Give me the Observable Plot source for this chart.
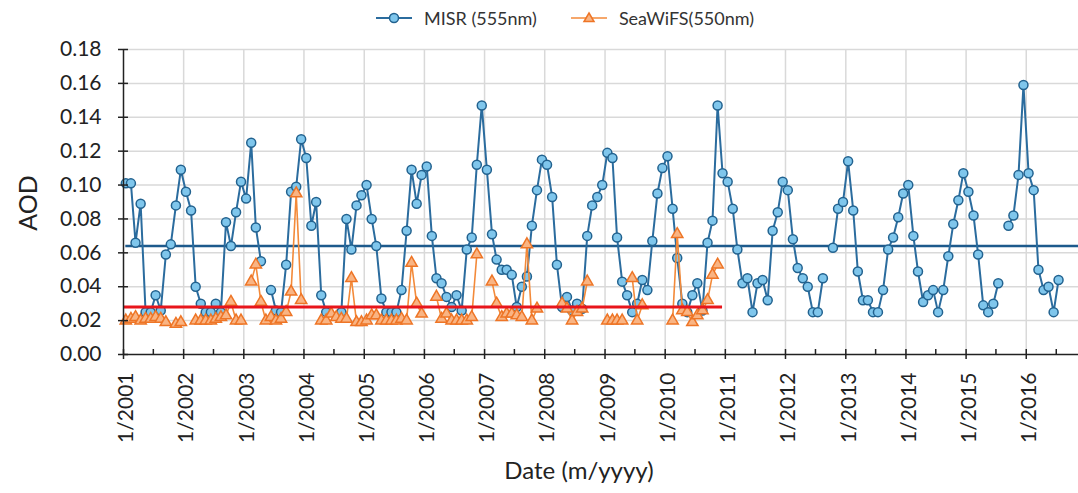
<!DOCTYPE html>
<html><head><meta charset="utf-8">
<script src="https://cdn.jsdelivr.net/npm/d3@7"></script>
<script src="https://cdn.jsdelivr.net/npm/@observablehq/plot@0.6"></script>
<style>
body{margin:0;background:#fff;font-family:Lato,"Open Sans",sans-serif;}
#wrap{position:relative;width:1078px;height:493px;overflow:hidden;}
#legend{position:absolute;top:7px;left:376px;display:flex;align-items:center;font-size:18px;color:#333;white-space:nowrap;}
#legend .item{display:flex;align-items:center;margin-right:34px;}
#legend .item span{margin-left:12px;}
#chart{position:absolute;top:36px;left:0;}
.title{position:absolute;color:#222;white-space:nowrap;transform:translate(-50%,-50%);line-height:1;}
#ytitle{left:27px;top:203px;font-size:25px;transform:translate(-50%,-50%) rotate(-90deg);}
#xtitle{left:579px;top:470px;font-size:24px;}
</style></head><body>
<div id="wrap"><div id="legend"></div><div id="chart"></div>
<div id="ytitle" class="title"></div><div id="xtitle" class="title"></div></div>
<script>
// ---- data (monthly AOD, Jan..Dec; null = no data) ----
const seriesNames = ["MISR (555nm)", "SeaWiFS(550nm)"];
const yTitle = "AOD";
const xTitle = "Date (m/yyyy)";
const misrStartYear = 2001;
const misrAOD = [
  [0.101,0.101,0.066,0.089,0.025,0.025,0.035,0.026,0.059,0.065,0.088,0.109], // 2001
  [0.096,0.085,0.040,0.030,0.025,0.025,0.030,0.025,0.078,0.064,0.084,0.102], // 2002
  [0.092,0.125,0.075,0.055,null,0.038,0.026,0.025,0.053,0.096,0.099,0.127],  // 2003
  [0.116,0.076,0.090,0.035,0.025,null,null,0.025,0.080,0.062,0.088,0.094],   // 2004
  [0.100,0.080,0.064,0.033,0.025,0.025,0.025,0.038,0.073,0.109,0.089,0.106], // 2005
  [0.111,0.070,0.045,0.042,0.034,0.028,0.035,0.026,0.062,0.069,0.112,0.147], // 2006
  [0.109,0.071,0.056,0.050,0.050,0.047,0.028,0.040,0.046,0.076,0.097,0.115], // 2007
  [0.112,0.093,0.053,0.028,0.034,0.026,0.030,0.027,0.070,0.088,0.093,0.100], // 2008
  [0.119,0.116,0.069,0.043,0.035,0.025,0.030,0.044,0.038,0.067,0.095,0.110], // 2009
  [0.117,0.086,0.057,0.030,0.025,0.035,0.042,0.026,0.066,0.079,0.147,0.107], // 2010
  [0.102,0.086,0.062,0.042,0.045,0.025,0.042,0.044,0.032,0.073,0.084,0.102], // 2011
  [0.097,0.068,0.051,0.045,0.040,0.025,0.025,0.045,null,0.063,0.086,0.090],  // 2012
  [0.114,0.085,0.049,0.032,0.032,0.025,0.025,0.038,0.062,0.069,0.081,0.095], // 2013
  [0.100,0.070,0.049,0.031,0.035,0.038,0.025,0.038,0.058,0.077,0.091,0.107], // 2014
  [0.096,0.082,0.059,0.029,0.025,0.030,0.042,null,0.076,0.082,0.106,0.159],  // 2015
  [0.107,0.097,0.050,0.038,0.040,0.025,0.044]                                 // 2016
];
const seawifsStartYear = 2001;
const seawifsAOD = [
  [0.020,0.021,0.022,0.020,0.021,0.021,0.022,0.021,0.019,null,0.018,0.019], // 2001
  [null,null,0.020,0.020,0.020,0.020,0.021,0.022,0.023,0.031,0.020,0.020],  // 2002
  [null,0.043,0.053,0.031,0.020,0.022,0.020,0.021,0.025,0.037,0.095,0.032], // 2003
  [null,null,null,0.020,0.020,0.024,0.022,0.021,0.021,0.045,0.019,0.019],   // 2004
  [0.020,0.023,0.023,0.020,0.020,0.020,0.020,0.021,0.020,0.054,0.030,0.024],// 2005
  [null,null,0.034,0.021,0.024,0.020,0.020,0.020,0.020,0.022,0.059,null],   // 2006
  [null,0.043,0.030,0.022,0.024,0.024,0.023,0.022,0.065,0.020,0.027,null],  // 2007
  [null,null,null,0.030,0.027,0.020,0.025,0.027,0.043,null,null,null],      // 2008
  [0.020,0.020,0.020,0.020,null,0.045,0.020,0.029,null,null,null,null],     // 2009
  [null,0.020,0.071,0.026,0.025,0.019,0.023,0.026,0.032,0.047,0.053,null]   // 2010
];
const misrMean = 0.064;
const seawifsMean = 0.028;
const yTicks = [0,0.02,0.04,0.06,0.08,0.10,0.12,0.14,0.16,0.18];
const tickYears = [2001,2002,2003,2004,2005,2006,2007,2008,2009,2010,2011,2012,2013,2014,2015,2016];

// ---- build tables ----
function toRows(arr, y0) {
  const rows = [];
  arr.forEach((yr, i) => yr.forEach((v, m) => rows.push({date: new Date(y0 + i, m, 15), v})));
  return rows;
}
const misr = toRows(misrAOD, misrStartYear);
const seawifs = toRows(seawifsAOD, seawifsStartYear);
const yearDates = tickYears.map(y => new Date(y, 0, 1));
const midDates = tickYears.map(y => new Date(y, 6, 1));
const xStart = new Date(2001, 0, 1), xEnd = new Date(2016, 10, 13);

const C = {misrLine:"#2b6c9e", misrFill:"#7fc6ec", misrStroke:"#22628f", misrMean:"#1d5a8c",
           seaLine:"#f38a3a", seaFill:"#f9b483", seaStroke:"#ee7526", seaMean:"#e8151b",
           grid:"#d9d9d9", axis:"#222"};

// ---- legend & titles ----
document.getElementById("legend").innerHTML =
 `<div class="item"><svg width="36" height="16"><line x1="0" y1="8" x2="36" y2="8" stroke="${C.misrLine}" stroke-width="2"/><circle cx="18" cy="8" r="4.5" fill="${C.misrFill}" stroke="${C.misrStroke}" stroke-width="1.5"/></svg><span>${seriesNames[0]}</span></div>` +
 `<div class="item"><svg width="36" height="16"><line x1="0" y1="8" x2="36" y2="8" stroke="${C.seaLine}" stroke-width="1.6"/><path d="M18,3 L23,11.5 L13,11.5 Z" fill="${C.seaFill}" stroke="${C.seaStroke}" stroke-width="1.5"/></svg><span>${seriesNames[1]}</span></div>`;
document.getElementById("ytitle").textContent = yTitle;
document.getElementById("xtitle").textContent = xTitle;

// ---- chart ----
const chart = Plot.plot({
  width: 1078, height: 457,
  marginLeft: 123, marginRight: 0, marginTop: 13, marginBottom: 139,
  style: {fontFamily: "Lato, 'Open Sans', sans-serif", color: "#222", background: "#fff", overflow: "visible"},
  x: {type: "time", domain: [xStart, xEnd], axis: null},
  y: {domain: [0, 0.18], axis: null},
  marks: [
    Plot.gridY(yTicks.slice(1), {stroke: C.grid, strokeOpacity: 1, strokeWidth: 1.5}),
    Plot.gridX(yearDates.slice(1), {stroke: C.grid, strokeOpacity: 1, strokeWidth: 1.5}),
    Plot.ruleY([misrMean], {x1: misr[0].date, x2: xEnd, stroke: C.misrMean, strokeWidth: 2.5}),
    Plot.line(misr, {x: "date", y: "v", stroke: C.misrLine, strokeWidth: 2}),
    Plot.dot(misr, {x: "date", y: "v", r: 4.5, fill: C.misrFill, stroke: C.misrStroke, strokeWidth: 1.5}),
    Plot.line(seawifs, {x: "date", y: "v", stroke: C.seaLine, strokeWidth: 1.6}),
    Plot.dot(seawifs, {x: "date", y: "v", symbol: "triangle", r: 4.2, fill: C.seaFill, stroke: C.seaStroke, strokeWidth: 1.5}),
    Plot.ruleY([seawifsMean], {x1: xStart, x2: new Date(2010, 11, 15), stroke: C.seaMean, strokeWidth: 3}),
    // axis lines
    Plot.ruleX([xStart], {stroke: C.axis, strokeWidth: 1.5}),
    Plot.ruleY([0], {stroke: C.axis, strokeWidth: 1.5}),
    // y axis: crossing ticks, then labels
    Plot.axisY(yTicks, {tickSize: 10, dx: 5, tickFormat: () => "", stroke: C.axis, strokeWidth: 1.5, label: null}),
    Plot.axisY(yTicks, {tickSize: 0, tickPadding: 22, tickFormat: d3.format(".2f"), fontSize: 21, fill: "#222", label: null}),
    // x axis: crossing year ticks, inner mid-year ticks, rotated labels
    Plot.axisX(yearDates, {tickSize: 10, dy: -5, tickFormat: () => "", stroke: C.axis, strokeWidth: 1.5, label: null}),
    Plot.axisX(midDates, {tickSize: -5, tickFormat: () => "", stroke: C.axis, strokeWidth: 1.5, label: null}),
    Plot.axisX(yearDates, {tickSize: 0, tickPadding: 18, dx: 3, tickRotate: -90, tickFormat: d => `1/${d.getFullYear()}`, fontSize: 21, fill: "#222", label: null})
  ]
});
document.getElementById("chart").appendChild(chart);
</script>
</body></html>
